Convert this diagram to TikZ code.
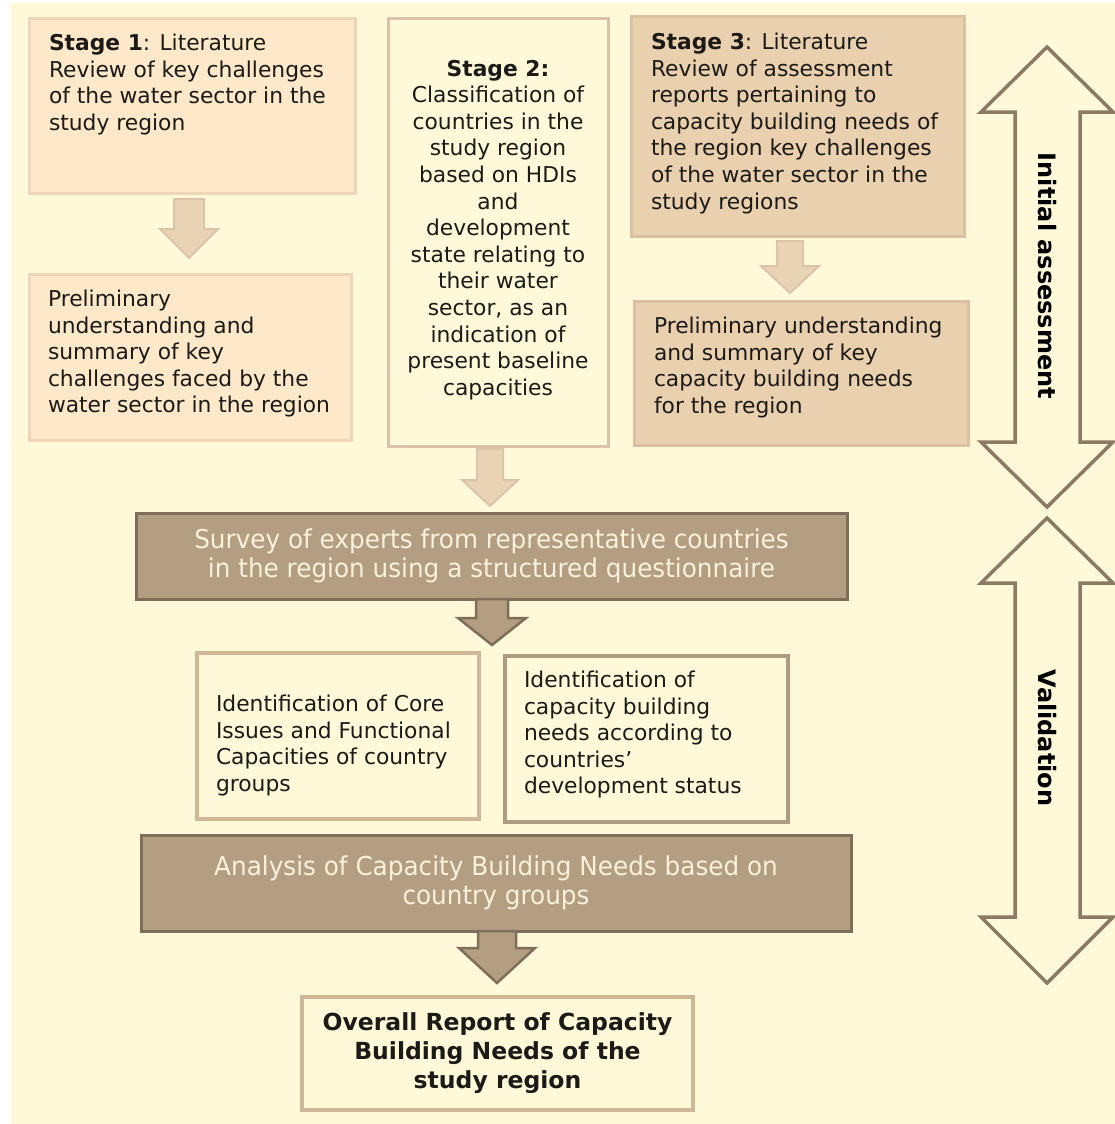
\documentclass[tikz,border=0pt]{standalone}
\usepackage{fontspec}
\setmainfont{DejaVu Sans}
\newfontfamily\narrowfont[FakeStretch=0.95]{DejaVu Sans}
\usetikzlibrary{fit,calc}
\definecolor{bg}{HTML}{FFF9DA}
\definecolor{lfill}{HTML}{FDE8C9}
\definecolor{ldraw}{HTML}{EED6B6}
\definecolor{mfill}{HTML}{E9D0AF}
\definecolor{mdraw}{HTML}{DBC1A1}
\definecolor{sdraw}{HTML}{DCC2AA}
\definecolor{afill}{HTML}{E9D3B5}
\definecolor{adraw}{HTML}{DCC4A8}
\definecolor{dfill}{HTML}{B49E82}
\definecolor{ddraw}{HTML}{7F6E5A}
\definecolor{dtext}{HTML}{FBF1DA}
\definecolor{tbdraw}{HTML}{CDB898}
\definecolor{bigdraw}{HTML}{8B7A64}
\definecolor{txtc}{HTML}{1C1A17}
\newcommand\blockarrow[6]{% style, top coordinate, length, shaft half, head half, head length
  \draw[#1] ($(#2)+(-#4,0)$) -- ++(2*#4,0) -- ++(0,#3-#6) -- ++(#5-#4,0)
    -- ($(#2)+(0,#3)$) -- ($(#2)+(-#5,#3-#6)$) -- ++(#5-#4,0) -- cycle;}
\begin{document}
\begin{tikzpicture}[x=1pt,y=-1pt,
  every node/.style={inner sep=0pt, outer sep=0pt},
  lbox/.style={draw=ldraw, fill=lfill, line width=3pt},
  mbox/.style={draw=mdraw, fill=mfill, line width=3pt},
  sbox/.style={draw=sdraw, fill=bg, line width=3pt},
  tbox/.style={draw=tbdraw, fill=bg, line width=3.5pt},
  dbox/.style={draw=ddraw, fill=dfill, line width=3pt},
  larr/.style={draw=adraw, fill=afill, line width=2pt, line join=miter},
  darr/.style={draw=ddraw, fill=dfill, line width=2.5pt, line join=miter},
  bigarr/.style={draw=bigdraw, fill=bg, line width=3.5pt, line join=miter},
  txt/.style={font=\fontsize{21.8}{26.6}\selectfont, text=txtc, align=left},
  ctxt/.style={font=\fontsize{21.8}{26.6}\selectfont, text=txtc, align=center},
  dtxt/.style={font=\narrowfont\fontsize{26}{29.5}\selectfont, text=dtext, align=center},
  vtxt/.style={font=\bfseries\fontsize{24}{28}\selectfont, text=black, rotate=-90}
]
\useasboundingbox (0,0) rectangle (1115,1124);
\fill[bg] (11,3) rectangle (1115,1124);

% boxes
\node[lbox, fit={(29,19) (355,193)}] (s1) {};
\node[lbox, fit={(29,274) (351,440)}] (p1) {};
\node[sbox, fit={(388,19) (608,446)}] (s2) {};
\node[mbox, fit={(631,17) (964,236)}] (s3) {};
\node[mbox, fit={(634,301) (968,445)}] (p3) {};
\node[dbox, fit={(136,513) (847,599)}] (sv) {};
\node[tbox, fit={(197,653) (479,819)}] (ci) {};
\node[tbox, draw=tbdraw!85!black, fit={(505,656) (788,822)}] (cb) {};
\node[dbox, fit={(141,835) (851,931)}] (an) {};
\node[tbox, fit={(302,997) (693,1110)}] (ov) {};

% texts
\node[txt, anchor=north west] (s1t) at (49,34) {\textbf{Stage 1}: Literature\\Review of key challenges\\of the water sector in the\\study region};
\node[txt, anchor=north west] (p1t) at (48,290) {Preliminary\\understanding and\\summary of key\\challenges faced by the\\water sector in the region};
\node[ctxt, anchor=north] (s2t) at (498,60) {\textbf{Stage 2:}\\Classification of\\countries in the\\study region\\based on HDIs\\and\\development\\state relating to\\their water\\sector, as an\\indication of\\present baseline\\capacities};
\node[txt, anchor=north west] (s3t) at (651,33) {\textbf{Stage 3}: Literature\\Review of assessment\\reports pertaining to\\capacity building needs of\\the region key challenges\\of the water sector in the\\study regions};
\node[txt, anchor=north west] (p3t) at (654,317) {Preliminary understanding\\and summary of key\\capacity building needs\\for the region};
\node[dtxt] (svt) at (sv.center) {Survey of experts from representative countries\\in the region using a structured questionnaire};
\node[txt, anchor=north west] (cit) at (216,695) {Identification of Core\\Issues and Functional\\Capacities of country\\groups};
\node[txt, anchor=north west] (cbt) at (524,671) {Identification of\\capacity building\\needs according to\\countries’\\development status};
\node[dtxt] (ant) at (an.center) {Analysis of Capacity Building Needs based on\\country groups};
\node[ctxt, font=\bfseries\fontsize{23.5}{29}\selectfont] (ovt) at (ov.center) {Overall Report of Capacity\\Building Needs of the\\study region};

% block arrows between boxes
\coordinate (a1) at (189,199);
\coordinate (a2) at (790,241);
\coordinate (a3) at (490,449);
\coordinate (a4) at (492,599);
\coordinate (a5) at (497,931);
\blockarrow{larr}{a1}{59}{15}{29}{29}
\blockarrow{larr}{a2}{52}{13}{29}{27}
\blockarrow{larr}{a3}{57}{13}{28}{26}
\blockarrow{darr}{a4}{46}{16}{34}{27}
\blockarrow{darr}{a5}{52}{19}{38}{35}

% big double arrows
\draw[bigarr] (1047,47) -- (1113,112) -- (1080,112) -- (1080,442) -- (1113,442) -- (1047,507)
  -- (981,442) -- (1015,442) -- (1015,112) -- (981,112) -- cycle;
\draw[bigarr] (1047,518) -- (1113,583) -- (1080,583) -- (1080,917) -- (1113,917) -- (1047,983)
  -- (981,917) -- (1015,917) -- (1015,583) -- (981,583) -- cycle;
\node[vtxt] (ia) at (1047,276) {Initial assessment};
\node[vtxt] (va) at (1047,738) {Validation};
\end{tikzpicture}
\end{document}
